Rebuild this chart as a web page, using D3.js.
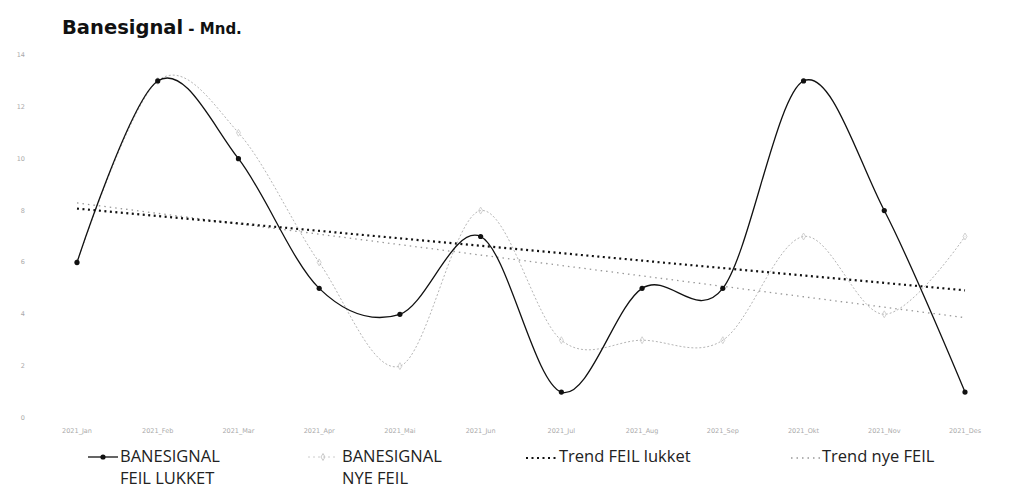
<!DOCTYPE html>
<html>
<head>
<meta charset="utf-8">
<script src="https://cdn.jsdelivr.net/npm/d3@7"></script>
<style>
  body { margin: 0; background: #fff; }
  svg { display: block; }
</style>
</head>
<body>
<div id="chart"></div>
<script>
const months = ["2021_Jan", "2021_Feb", "2021_Mar", "2021_Apr", "2021_Mai", "2021_Jun",
  "2021_Jul", "2021_Aug", "2021_Sep", "2021_Okt", "2021_Nov", "2021_Des"];
const feilLukket = [6, 13, 10, 5, 4, 7, 1, 5, 5, 13, 8, 1];
const nyeFeil = [6, 13, 11, 6, 2, 8, 3, 3, 3, 7, 4, 7];
const yTicks = [0, 2, 4, 6, 8, 10, 12, 14];

const width = 1010;
const height = 491;

// least squares trend, like the spreadsheet trendline
const trend = (vals) => {
  const xs = vals.map((v, i) => i + 1);
  const mx = d3.mean(xs);
  const my = d3.mean(vals);
  const sxy = d3.sum(vals, (v, i) => (xs[i] - mx) * (v - my));
  const sxx = d3.sum(xs, (x) => (x - mx) * (x - mx));
  const b = sxy / sxx;
  return xs.map((x) => my + b * (x - mx));
};

const x = d3.scalePoint().domain(months).range([77, 965]);
const y = d3.scaleLinear().domain([0, 14]).range([418, 55]);

const svg = d3
  .select("#chart")
  .append("svg")
  .attr("width", width)
  .attr("height", height)
  .style("font-family", "'DejaVu Sans', sans-serif");

// title
const title = svg.append("text").attr("x", 62).attr("y", 34).attr("font-weight", "bold");
title.append("tspan").attr("font-size", 19.5).attr("fill", "#111").text("Banesignal");
title.append("tspan").attr("font-size", 15).attr("fill", "#111").text(" - Mnd.");

// y labels
svg
  .append("g")
  .selectAll("text")
  .data(yTicks)
  .join("text")
  .attr("x", 25)
  .attr("y", (d) => y(d) + 2)
  .attr("text-anchor", "end")
  .attr("font-size", 6.5)
  .attr("fill", "#aaa")
  .text((d) => d);

// x labels
svg
  .append("g")
  .selectAll("text")
  .data(months)
  .join("text")
  .attr("x", (d) => x(d))
  .attr("y", 433)
  .attr("text-anchor", "middle")
  .attr("font-size", 6.5)
  .attr("fill", "#aaa")
  .text((d) => d);

const smooth = d3
  .line()
  .x((d, i) => x(months[i]))
  .y((d) => y(d))
  .curve(d3.curveCardinal.tension(0));

const straight = d3
  .line()
  .x((d, i) => x(months[i]))
  .y((d) => y(d));

// trend lines
svg
  .append("path")
  .attr("d", straight(trend(nyeFeil)))
  .attr("fill", "none")
  .attr("stroke", "#999")
  .attr("stroke-width", 1.3)
  .attr("stroke-dasharray", "1.5,4");

svg
  .append("path")
  .attr("d", straight(trend(feilLukket)))
  .attr("fill", "none")
  .attr("stroke", "#111")
  .attr("stroke-width", 2.2)
  .attr("stroke-dasharray", "2,3.5");

// nye feil
svg
  .append("path")
  .attr("d", smooth(nyeFeil))
  .attr("fill", "none")
  .attr("stroke", "#b5b5b5")
  .attr("stroke-width", 1)
  .attr("stroke-dasharray", "2,2");

svg
  .append("g")
  .selectAll("path")
  .data(nyeFeil)
  .join("path")
  .attr("transform", (d, i) => `translate(${x(months[i])},${y(d)})`)
  .attr("d", d3.symbol(d3.symbolDiamond, 14))
  .attr("fill", "none")
  .attr("stroke", "#c8c8c8")
  .attr("stroke-width", 0.8);

// feil lukket
svg
  .append("path")
  .attr("d", smooth(feilLukket))
  .attr("fill", "none")
  .attr("stroke", "#111")
  .attr("stroke-width", 1.3);

svg
  .append("g")
  .selectAll("circle")
  .data(feilLukket)
  .join("circle")
  .attr("cx", (d, i) => x(months[i]))
  .attr("cy", (d) => y(d))
  .attr("r", 2.6)
  .attr("fill", "#111");

// legend
const leg = svg
  .append("g")
  .style("font-family", "'Liberation Sans Narrow', 'Open Sans', sans-serif")
  .attr("font-size", 16.5)
  .attr("fill", "#222");

// one text per line so the two rows never share a box
const legText = (tx, lines) => {
  lines.forEach((s, i) =>
    leg.append("text").attr("x", tx).attr("y", 462 + i * 21.5).text(s)
  );
};

leg.append("line").attr("x1", 88).attr("x2", 118).attr("y1", 457).attr("y2", 457)
  .attr("stroke", "#111").attr("stroke-width", 1.3);
leg.append("circle").attr("cx", 103).attr("cy", 457).attr("r", 2.6).attr("fill", "#111");
legText(120, ["BANESIGNAL", "FEIL LUKKET"]);

leg.append("line").attr("x1", 308).attr("x2", 338).attr("y1", 457).attr("y2", 457)
  .attr("stroke", "#ccc").attr("stroke-width", 1).attr("stroke-dasharray", "2,3");
leg.append("path").attr("transform", "translate(323,457)")
  .attr("d", d3.symbol(d3.symbolDiamond, 14))
  .attr("fill", "none").attr("stroke", "#bbb").attr("stroke-width", 0.8);
legText(342, ["BANESIGNAL", "NYE FEIL"]);

leg.append("line").attr("x1", 526).attr("x2", 557).attr("y1", 458).attr("y2", 458)
  .attr("stroke", "#111").attr("stroke-width", 2.2).attr("stroke-dasharray", "2,3.5");
legText(559, ["Trend FEIL lukket"]);

leg.append("line").attr("x1", 791).attr("x2", 821).attr("y1", 458).attr("y2", 458)
  .attr("stroke", "#999").attr("stroke-width", 1.3).attr("stroke-dasharray", "1.5,4");
legText(822, ["Trend nye FEIL"]);
</script>
</body>
</html>
